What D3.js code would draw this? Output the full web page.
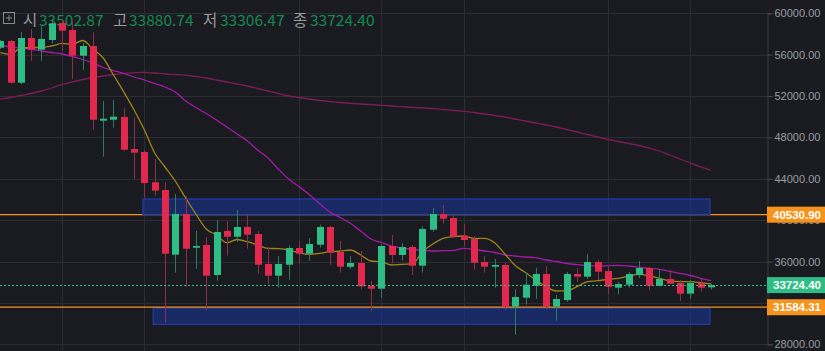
<!DOCTYPE html>
<html><head><meta charset="utf-8">
<script src="https://cdn.jsdelivr.net/npm/d3@7/dist/d3.min.js"></script>
<style>html,body{margin:0;padding:0;background:#1a1b20;overflow:hidden}</style>
</head><body><svg id="c" width="825" height="351"></svg>
<script>
// ---- data ----
const candleIdx = d3.range(70);
const opens  = [56674,57322,53290,57612,56481,57419,59062,58385,55901,56839,49617,49713,49974,46880,46590,43661,42917,36662,40596,37338,37599,34699,38953,38402,39340,38663,35763,34632,35695,37309,36758,37628,39340,36922,35490,35859,33635,33374,37503,36633,37406,35598,39079,40596,40210,38498,38179,35956,35501,35666,31634,32504,33665,34796,31634,32282,34796,34535,35956,35085,33471,33761,34699,35376,33665,34312,33926,32896,33926,33502.87];
const highs  = [57420,57420,58192,58482,58772,59420,59380,59256,57129,58163,51521,51618,50815,49945,46784,45914,43661,42530,42337,38953,38344,40016,39920,40983,40500,38953,37377,36536,37570,37986,38276,39562,39436,37986,36536,37019,34119,37667,38566,37793,37599,39407,41177,41467,40500,39630,38469,36536,36246,35859,33346,34989,35405,35569,32766,34989,35376,36729,36149,35472,34022,34989,36053,35501,35279,35182,34215,34215,34312,33880.74];
const lows   = [56550,53194,53136,55417,55417,57100,56355,53619,54518,48747,46136,48940,46716,43980,42172,42385,30088,34921,33568,35308,31248,34148,36565,37919,37242,34825,33829,33471,34244,35792,36082,37338,35695,34921,35279,33346,31151,32504,35830,36082,34699,34921,38885,39659,38247,37503,35211,34921,33471,31344,28927,31828,32408,31344,30281,32089,34022,34312,34215,32833,32833,33471,34409,33249,33568,33800,32185,32408,33085,33306.47];
const closes = [57322,53290,57612,56481,57515,59033,58318,55901,56839,49713,49810,50003,46813,46523,43593,42849,36758,40596,37242,37503,34632,38856,38402,39340,38595,35695,34632,35763,37309,36758,37696,39340,36855,35501,35859,33606,33374,37503,36633,37406,35598,39146,40596,40142,38402,38083,35888,35501,35666,31634,32572,33761,34796,31634,32379,34796,34535,35956,35018,33568,33829,34796,35376,33665,34312,33858,32896,33926,33471,33724.40];
// moving averages (one value per candle)
const maShort = [56191,56036,56645,56694,56694,56839,57100,57003,57370,56549,55679,54035,52391,50651,48718,46494,45140,43787,42143,40596,39146,38566,37822,38131,37918,37599,37280,37242,37116,36855,36700,36797,36952,37019,37116,36633,36053,35985,35666,35734,35762,36952,37696,38247,38421,38470,38247,38247,37822,36729,35617,34941,34216,33568,33152,33181,33568,34051,34148,34283,34380,34602,34767,34631,34380,34148,34051,34051,33955,33829];
const maMid   = [56935,56742,56645,56520,56355,56210,56065,55824,55534,55195,54760,54470,54180,53842,53552,53213,52875,52391,51521,50893,50313,49684,49008,48331,47654,46784,46011,44947,43980,43255,42482,41612,40790,40258,39697,38953,38179,37841,37503,37309,37164,37068,37019,37048,37087,37280,37164,37019,36874,36633,36536,36439,36372,36149,36004,35811,35695,35617,35569,35598,35637,35569,35443,35346,35250,35057,34863,34651,34380,34148];
const maLong  = [51686,51860,52053,52246,52488,52778,53117,53358,53600,53793,53938,54083,54199,54257,54296,54228,54132,54083,54016,53890,53745,53552,53358,53165,52972,52730,52488,52246,52005,51860,51715,51570,51473,51376,51299,51231,51164,51106,51038,50970,50912,50845,50777,50700,50622,50526,50409,50264,50119,49974,49781,49588,49394,49201,49008,48766,48524,48283,48041,47799,47606,47412,47219,46977,46687,46301,45914,45527,45140,44850];
const yTicks = [28000,32000,36000,40000,44000,48000,52000,56000,60000];
const hiddenTickLabels = [32000];
const gridIdx = [6,14,29,37,45,59,67];
const resistance = 40530.90, support = 31584.31, lastPrice = 33724.40;
const zoneFrom = [14,15], zoneTo = [69,69], zoneTop = [42050,31500], zoneBottom = [40530.9,29930];
const legendLabels = ["시","고","저","종"];
const legendValues = [33502.87,33880.74,33306.47,33724.40];

// ---- drawing ----
const W=825,H=351,plotR=767;
const svg=d3.select('#c');
svg.append('rect').attr('width',W).attr('height',H).attr('fill','#1a1b20');
const x=d3.scaleLinear().domain([0,69]).range([0.2,710.9]);
const y=d3.scaleLinear().domain([28000,60000]).range([344.3,13.3]);
const px=v=>Math.round(v)+0.5;

const grid=svg.append('g');
grid.selectAll('line.h').data(yTicks).join('line')
  .attr('x1',0).attr('x2',plotR).attr('y1',d=>px(y(d))).attr('y2',d=>px(y(d)))
  .attr('stroke','#2b2d33').attr('stroke-width',1);
grid.selectAll('line.v').data(gridIdx).join('line')
  .attr('x1',d=>px(x(d))).attr('x2',d=>px(x(d))).attr('y1',0).attr('y2',H)
  .attr('stroke','#2b2d33').attr('stroke-width',1);

// legend (under the candles)
const lg=svg.append('g');
lg.append('rect').attr('x',3.5).attr('y',12.5).attr('width',11).attr('height',11).attr('fill','none').attr('stroke','#8a8a8a');
lg.append('line').attr('x1',6).attr('x2',12).attr('y1',18).attr('y2',18).attr('stroke','#8a8a8a');
lg.append('line').attr('x1',9).attr('x2',9).attr('y1',15).attr('y2',21).attr('stroke','#8a8a8a');
const labX=[23,113,203,293], valX=[39,129,220,310];
legendLabels.forEach((l,i)=>{
  lg.append('text').attr('x',labX[i]).attr('y',26).text(l)
    .attr('fill','#9a9a9a').style('font-family','"Noto Sans CJK KR"').style('font-size','15.5px');
  lg.append('text').attr('x',valX[i]).attr('y',26).text(legendValues[i].toFixed(2))
    .attr('fill','#138a52').style('font-family','"Noto Sans CJK KR"').style('font-size','15.5px');
});

// resistance line (under top zone)
svg.append('line').attr('x1',0).attr('x2',plotR).attr('y1',y(resistance)).attr('y2',y(resistance))
  .attr('stroke','#f7931a').attr('stroke-width',1.3);

// zones
const zones=d3.range(zoneFrom.length);
svg.selectAll('rect.zone').data(zones).join('rect')
  .attr('x',i=>x(zoneFrom[i])-1.5).attr('width',i=>x(zoneTo[i])-1-(x(zoneFrom[i])-1.5))
  .attr('y',i=>y(zoneTop[i])).attr('height',i=>y(zoneBottom[i])-y(zoneTop[i]))
  .attr('fill','rgba(23,52,145,0.6)').attr('stroke','#1f3ea8').attr('stroke-width',1.2);

// support line
svg.append('line').attr('x1',0).attr('x2',plotR).attr('y1',y(support)).attr('y2',y(support))
  .attr('stroke','#f7931a').attr('stroke-width',1.3);

// moving averages
const lineGen=arr=>d3.line().x((d,i)=>x(i)).y(d=>y(d)).curve(d3.curveMonotoneX)(arr);
svg.append('path').attr('d',lineGen(maLong)).attr('fill','none').attr('stroke','#7d1c57').attr('stroke-width',1.3);
svg.append('path').attr('d',lineGen(maMid)).attr('fill','none').attr('stroke','#a51aa8').attr('stroke-width',1.3);
svg.append('path').attr('d',lineGen(maShort)).attr('fill','none').attr('stroke','#a0841a').attr('stroke-width',1.3);

// candles
const up='#2ebd85', down='#e2294d', upW='#2c7d5c', downW='#8e2f43';
const cg=svg.append('g');
cg.selectAll('line.w').data(candleIdx).join('line')
  .attr('x1',i=>px(x(i))).attr('x2',i=>px(x(i)))
  .attr('y1',i=>y(highs[i])).attr('y2',i=>y(lows[i]))
  .attr('stroke',i=>closes[i]>=opens[i]?upW:downW).attr('stroke-width',1);
cg.selectAll('rect.b').data(candleIdx).join('rect')
  .attr('x',i=>Math.round(x(i))-3).attr('width',7)
  .attr('y',i=>y(Math.max(opens[i],closes[i])))
  .attr('height',i=>Math.max(1.5,Math.abs(y(opens[i])-y(closes[i]))))
  .attr('fill',i=>closes[i]>=opens[i]?up:down);

// last price dotted line
svg.append('line').attr('x1',0).attr('x2',plotR).attr('y1',px(y(lastPrice))).attr('y2',px(y(lastPrice)))
  .attr('stroke','#2ebd85').attr('stroke-width',1).attr('stroke-dasharray','2,2');

// right axis
const ax=svg.append('g').attr('transform',`translate(${plotR+0.5},0)`)
  .call(d3.axisRight(y).tickValues(yTicks).tickSize(5).tickPadding(2)
    .tickFormat(d=>hiddenTickLabels.includes(d)?'':d.toFixed(2)));
ax.select('.domain').attr('stroke','#3a3c43');
ax.selectAll('.tick line').attr('stroke','#4a4c53');
ax.selectAll('.tick text').attr('fill','#999ba1').style('font-family','"Liberation Sans",Arial').style('font-size','11px');

// price labels
const tags=[[resistance,'#f7931a'],[lastPrice,'#2ebd85'],[support,'#f7931a']];
tags.forEach(([v,c])=>{
  svg.append('rect').attr('x',plotR).attr('width',W-plotR).attr('y',y(v)-8).attr('height',16).attr('fill',c);
  svg.append('text').attr('x',plotR+6).attr('y',y(v)+4.2).text(v.toFixed(2))
    .attr('fill','#ffffff').style('font-family','"Liberation Sans",Arial').style('font-weight','bold').style('font-size','11.5px');
});
</script></body></html>
